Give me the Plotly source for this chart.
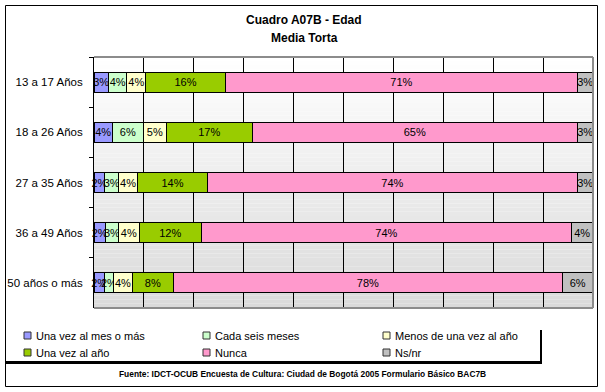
import plotly.graph_objects as go

# ---------------- data ----------------
categories = ["13 a 17 Años", "18 a 26 Años", "27 a 35 Años", "36 a 49 Años", "50 años o más"]
series_names = ["Una vez al mes o más", "Cada seis meses", "Menos de una vez al año",
                "Una vez al año", "Nunca", "Ns/nr"]
una_vez_mes = [2.9, 3.7, 2.2, 2.3, 2.1]
cada_seis_meses = [3.7, 6.2, 2.7, 2.6, 1.8]
menos_una_vez = [3.8, 4.6, 3.9, 4.2, 3.8]
una_vez_ano = [15.9, 17.2, 13.9, 12.4, 8.2]
nunca = [70.6, 65.2, 74.2, 74.2, 78.0]
ns_nr = [3.1, 3.1, 3.1, 4.3, 6.1]
series_values = [una_vez_mes, cada_seis_meses, menos_una_vez, una_vez_ano, nunca, ns_nr]
colors = ["#9999FF", "#CCFFCC", "#FFFFCC", "#99CC00", "#FF99CC", "#C0C0C0"]
title_lines = ["Cuadro A07B - Edad", "Media Torta"]
source_text = "Fuente: IDCT-OCUB Encuesta de Cultura: Ciudad de Bogotá 2005 Formulario Básico BAC7B"

# ---------------- layout geometry ----------------
W, H = 605, 392
L, R, T, B = 94, 12, 57, 84
PW, PH = W - L - R, H - T - B


def px(x):
    return (x - L) / PW


def py(y):
    return (H - B - y) / PH


FONT = "Liberation Sans, Arial, sans-serif"

fig = go.Figure()
for name, vals, col in zip(series_names, series_values, colors):
    fig.add_trace(go.Bar(
        y=categories, x=vals, name=name, orientation="h",
        marker=dict(color=col, line=dict(color="black", width=1)),
        texttemplate="%{x:.0f}%", textposition="inside", insidetextanchor="middle",
        textangle=0, constraintext="none",
        textfont=dict(family=FONT, size=11, color="black"),
        hoverinfo="skip", cliponaxis=False, showlegend=False,
    ))

shapes = []
# gradient background of plot area
N = 60
top = (255, 255, 255)
bot = (218, 218, 218)
for i in range(N):
    t = (i + 0.5) / N
    c = tuple(round(bot[k] + (top[k] - bot[k]) * t) for k in range(3))
    shapes.append(dict(type="rect", xref="paper", yref="paper", x0=0, x1=1,
                       y0=i / N, y1=(i + 1) / N, fillcolor="rgb(%d,%d,%d)" % c,
                       line=dict(width=0), layer="below"))
# plot border (gray) top/right/bottom
for (x0, y0, x1, y1) in [(0, 1, 1, 1), (1, 0, 1, 1), (0, 0, 1, 0)]:
    shapes.append(dict(type="line", xref="paper", yref="paper", x0=x0, y0=y0, x1=x1, y1=y1,
                       line=dict(color="#8C8C8C", width=2), layer="above"))
# outer frame
shapes.append(dict(type="rect", xref="paper", yref="paper", x0=px(5.5), x1=px(597.5),
                   y0=py(386.5), y1=py(5.5), line=dict(color="black", width=1),
                   fillcolor="rgba(0,0,0,0)", layer="above"))
# legend box shadow lines
shapes.append(dict(type="line", xref="paper", yref="paper", x0=px(6), x1=px(542),
                   y0=py(362.5), y1=py(362.5), line=dict(color="black", width=3)))
shapes.append(dict(type="line", xref="paper", yref="paper", x0=px(541), x1=px(541),
                   y0=py(330), y1=py(362), line=dict(color="black", width=2)))

# legend entries (3 columns x 2 rows)
leg_cols = [24, 203, 383]
leg_rows = [335.5, 352.5]
annotations = []
for i, (name, col) in enumerate(zip(series_names, colors)):
    cx = leg_cols[i % 3]
    cy = leg_rows[i // 3]
    shapes.append(dict(type="rect", xref="paper", yref="paper",
                       x0=px(cx), x1=px(cx + 7), y0=py(cy + 3.5), y1=py(cy - 3.5),
                       fillcolor=col, line=dict(color="#333333", width=1)))
    annotations.append(dict(text=name, xref="paper", yref="paper", x=px(cx + 10),
                            y=py(cy), xanchor="left", yanchor="middle", showarrow=False,
                            font=dict(family=FONT, size=11, color="black")))

annotations.append(dict(text="<b>" + title_lines[0] + "</b>", xref="paper", yref="paper",
                        x=px(304), y=py(20), xanchor="center", yanchor="middle",
                        showarrow=False, font=dict(family=FONT, size=12, color="black")))
annotations.append(dict(text="<b>" + title_lines[1] + "</b>", xref="paper", yref="paper",
                        x=px(304), y=py(38), xanchor="center", yanchor="middle",
                        showarrow=False, font=dict(family=FONT, size=12, color="black")))
annotations.append(dict(text="<b>" + source_text + "</b>", xref="paper", yref="paper",
                        x=px(302), y=py(374), xanchor="center", yanchor="middle",
                        showarrow=False, font=dict(family=FONT, size=8.4, color="black")))

fig.update_layout(
    width=W, height=H,
    margin=dict(l=L, r=R, t=T, b=B, autoexpand=False),
    paper_bgcolor="white", plot_bgcolor="rgba(0,0,0,0)",
    barmode="stack", bargap=0.6,
    font=dict(family=FONT, size=11, color="black"),
    xaxis=dict(range=[0, 100], tickvals=[10, 20, 30, 40, 50, 60, 70, 80, 90],
               showticklabels=False, showgrid=True, gridcolor="black", gridwidth=1,
               zeroline=False, showline=False, ticks="", automargin=False),
    yaxis=dict(autorange="reversed", showline=True, linecolor="black", linewidth=1,
               ticks="outside", tickson="boundaries", ticklen=4, tickcolor="black",
               showgrid=False, ticklabelstandoff=8, automargin=False,
               tickfont=dict(family=FONT, size=11.5, color="black")),
    showlegend=False,
    hovermode=False,
    shapes=shapes,
    annotations=annotations,
)

fig.write_html("out.html", config={"displayModeBar": False},
               post_script="document.body.style.margin='0';")
